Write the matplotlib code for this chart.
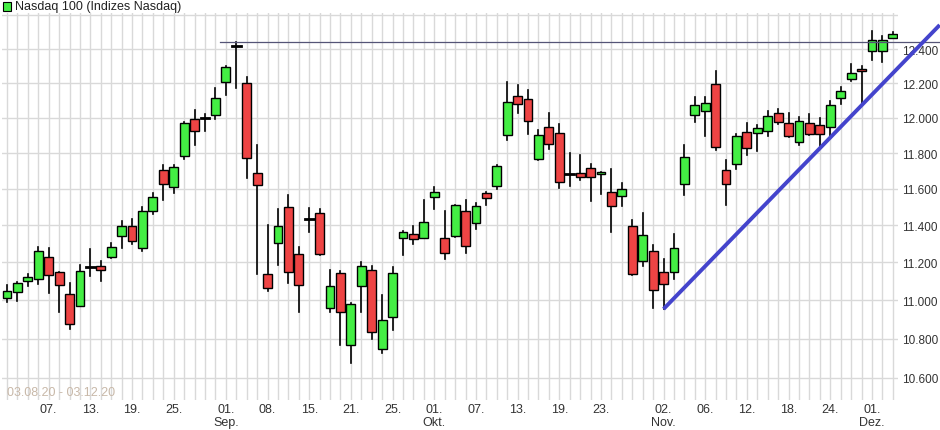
import matplotlib
matplotlib.use("Agg")
import matplotlib.pyplot as plt
from matplotlib.ticker import FixedLocator, NullLocator

opens = [11014,11046,11102,11114,11231,11151,11035,10968,11172,11182,11231,11342,11395,11275,11480,
         11706,11609,11784,11996,11990,12016,12206,12418,12200,11689,11140,11307,11500,11247,11430,
         11467,10962,11146,10766,11077,11161,10746,10911,11329,11351,11329,11556,11329,11344,11478,
         11411,11578,11617,11900,12127,12108,11767,11950,11911,11678,11689,11717,11683,11583,11561,
         11396,11209,11262,11149,11151,11628,12018,12039,12194,11704,11739,11920,11911,11922,12027,
         11968,11861,11970,11961,11950,12112,12222,12280,12386,12390,12468]
highs = [11081,11095,11140,11282,11276,11151,11089,11189,11270,11209,11307,11422,11437,11502,11578,
         11731,11731,11978,12046,12019,12170,12299,12439,12235,11846,11402,11487,11569,11282,11494,
         11491,11158,11155,10985,11203,11180,11026,11174,11368,11395,11539,11611,11478,11512,11539,
         11524,11583,11731,12204,12190,12161,11930,12030,11963,11802,11791,11741,11694,11713,11635,
         11428,11469,11293,11221,11354,11846,12117,12117,12270,11763,11907,11972,11957,12037,12048,
         12025,12002,12020,12000,12097,12177,12311,12298,12510,12478,12503]
lows = [10993,10996,11075,11084,11037,10940,10851,10968,11130,11100,11222,11275,11298,11262,11462,
        11537,11580,11769,11843,11926,11996,12133,12172,11662,11137,11050,11189,11089,10940,11365,
        11240,10937,10766,10676,10940,10800,10727,10847,11240,11298,11329,11487,11219,11335,11252,
        11380,11509,11598,11876,12025,11907,11760,11824,11607,11615,11648,11532,11571,11362,11506,
        11133,11180,10957,10954,11114,11565,11974,11895,11815,11509,11713,11787,11809,11895,11965,
        11890,11843,11900,11839,11895,12082,12214,12084,12338,12322,12465]
closes = [11049,11093,11125,11264,11135,11082,10875,11153,11178,11160,11285,11398,11316,11480,11554,
          11628,11722,11972,11926,11997,12112,12293,12420,11772,11622,11067,11395,11151,11082,11436,
          11247,11077,10937,10980,11182,10834,10896,11146,11362,11324,11417,11583,11252,11509,11289,
          11506,11550,11728,12088,12082,11983,11900,11850,11639,11684,11667,11667,11694,11506,11600,
          11140,11349,11052,11084,11280,11778,12075,12086,11833,11628,11895,11828,11939,12010,11978,
          11895,11983,11905,11905,12075,12153,12257,12268,12454,12454,12491]

tick_idx = [4, 8, 12, 16, 21, 25, 29, 33, 37, 41, 45, 49, 53, 57, 63, 67, 71, 75, 79, 83]
tick_lbl = ["07.", "13.", "19.", "25.", "01.\nSep.", "08.", "15.", "21.", "25.", "01.\nOkt.",
            "07.", "13.", "19.", "23.", "02.\nNov.", "06.", "12.", "18.", "24.", "01.\nDez."]
y_ticks = [10600, 10800, 11000, 11200, 11400, 11600, 11800, 12000, 12200, 12400, 12600]
resistance = 12439
trend_start = (63, 10954)
trend_end = (89.5, 12543)

plt.rcParams['font.family'] = ['Liberation Sans', 'DejaVu Sans']
fig = plt.figure(figsize=(9.4, 4.31), dpi=100)
ax = fig.add_axes([2/940, 30/431, 896/940, 387/431])
ax.set_yscale('log')
ax.set_ylim(10489, 12615)
ax.set_xlim(-0.48, 85.5)

for i in range(len(opens)):
    ax.axvline(i, color='#d9d9d9', lw=1, zorder=0)
for v in y_ticks:
    ax.axhline(v, color='#d9d9d9', lw=1, zorder=0)

w = 0.85
for i, (o, h, l, c) in enumerate(zip(opens, highs, lows, closes)):
    ax.plot([i, i], [l, h], color='black', lw=1.2, zorder=2)
    if abs(c - o) < 8:
        ax.plot([i - w/2, i + w/2], [c, c], color='black', lw=2, zorder=3)
    else:
        col = '#44ee44' if c > o else '#ee4444'
        ax.bar(i, abs(c - o), bottom=min(o, c), width=w, color=col,
               edgecolor='black', linewidth=1, zorder=3)

ax.plot([21 - 0.6, 92], [resistance, resistance], color='#555577', lw=0.9, zorder=4, clip_on=False)
ax.plot([trend_start[0], trend_end[0]], [trend_start[1], trend_end[1]], color='#4444cc',
        lw=2.8, zorder=5, clip_on=False, solid_capstyle='butt')

ax.yaxis.set_major_locator(FixedLocator(y_ticks[:-1]))
ax.yaxis.set_minor_locator(NullLocator())
ax.set_yticklabels([f"{v:,}".replace(",", ".") for v in y_ticks[:-1]])
ax.yaxis.tick_right()
ax.tick_params(axis='y', length=0, labelsize=8.5, pad=3, colors='#333333')
ax.set_xticks(tick_idx)
ax.set_xticklabels(tick_lbl, fontsize=9, color='#333333', linespacing=1.15)
ax.tick_params(axis='x', length=0, pad=2)
for s in ax.spines.values():
    s.set_visible(False)

fig.patches.append(plt.Rectangle((3/940, 1 - 12/431), 8/940, 9/431, transform=fig.transFigure,
                                 facecolor='#44ee44', edgecolor='black', lw=0.8))
fig.text(15/940, 1 - 7/431, 'Nasdaq 100 (Indizes Nasdaq)', fontsize=9, va='center', color='#222222')
ax.text(0.006, 0.012, '03.08.20 - 03.12.20', transform=ax.transAxes, fontsize=9, color='#c8b8a8')

fig.savefig('out.png', dpi=100)
